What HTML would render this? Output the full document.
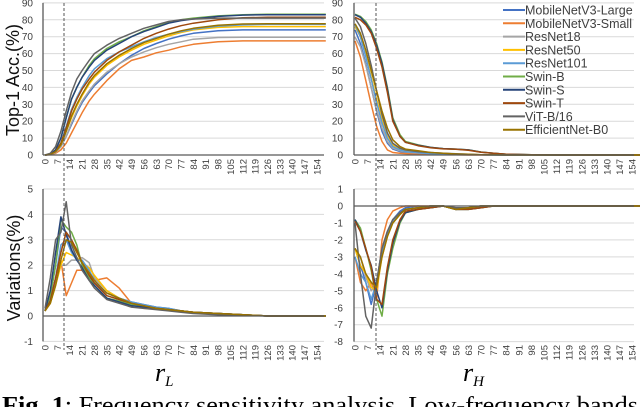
<!DOCTYPE html>
<html><head><meta charset="utf-8"><style>
html,body{margin:0;padding:0;background:#fff;overflow:hidden}
svg{display:block;font-family:"Liberation Sans",sans-serif}
</style></head><body>
<svg id="fig" width="640" height="407" viewBox="0 0 640 407" xmlns="http://www.w3.org/2000/svg"></svg>
<script>
const categories=[0,3,6,9,12,15,18,21,25,28,35,42,49,56,63,70,77,84,98,112,126,140,159];
const xTicks=[0,7,14,21,28,35,42,49,56,63,70,77,84,91,98,105,112,119,126,133,140,147,154];
const seriesNames=["MobileNetV3-Large","MobileNetV3-Small","ResNet18","ResNet50","ResNet101","Swin-B","Swin-S","Swin-T","ViT-B/16","EfficientNet-B0"];
const seriesColors=["#4472C4","#ED7D31","#A5A5A5","#FFC000","#5B9BD5","#70AD47","#264478","#9E480E","#636363","#997300"];
// Top-1 accuracy vs r_L
const accL_MV3L=[0,0.3,1.5,5,11,18,25,31,37,41,48,54,59,63,66,68.5,70.5,72,73.5,74,74,74,74];
const accL_MV3S=[0,0.2,1,3,7,13,19,25,32,36,44,51,56,58,60.5,62,64,65.5,67,67.5,67.5,67.5,67.5];
const accL_R18=[0,0.3,1.5,5,11,19,26,32,38,42,49,54,58,61,63.5,65.5,67,68.5,69.5,69.7,69.7,69.7,69.7];
const accL_R50=[0,0.3,2,6,14,22,29,35,42,46,53,58,62,65.5,68,70.5,72.5,74,75.5,76,76,76,76];
const accL_R101=[0,0.3,2,7,17,27,34,40,47,51,57,61,64,67,69.5,71.5,73,74.5,76.3,77,77.3,77.3,77.3];
const accL_SwinB=[0,0.5,3,10,22,33,40,46,53,57,63,67,70,73.5,76,78.5,80,81,82.3,83,83.3,83.3,83.3];
const accL_SwinS=[0,0.5,3,10,22,33,40,46,52,56,62,66,70,73,75.5,78,79.5,80.5,82,82.8,83,83,83];
const accL_SwinT=[0,0.3,2,7,16,26,33,39,45,49,56,61,65,69,72,74.5,76.5,78,80,81.2,81.5,81.5,81.5];
const accL_ViT=[0,1,5,14,26,37,45,50,56,60,65,69,72,75,77,79,80,80.5,81,81,81,81,81];
const accL_Eff=[0,0.3,2,6,14,23,30,36,43,47,54,59,63,66.5,69,71.5,73.5,75,76.8,77.5,77.7,77.7,77.7];
// Top-1 accuracy vs r_H
const accH_MV3L=[74,66,54,40,26,14,7,3.5,2,1.5,1,0.6,0.4,0.3,0.2,0.1,0,0,0,0,0,0,0];
const accH_MV3S=[67.5,58,44,30,17,8,3,1.5,1,0.8,0.5,0.3,0.2,0.1,0,0,0,0,0,0,0,0,0];
const accH_R18=[69.7,64,53,40,27,16,8,4,2.5,1.8,1.2,0.8,0.5,0.3,0.2,0.1,0,0,0,0,0,0,0];
const accH_R50=[76,70,59,46,33,21,12,6,3.5,2.5,1.5,1,0.6,0.4,0.3,0.1,0,0,0,0,0,0,0];
const accH_R101=[77.3,70,58,45,31,19,10,5,3,2,1.3,0.8,0.5,0.3,0.2,0.1,0,0,0,0,0,0,0];
const accH_SwinB=[83.3,82,79,74,66,55,40,22,12,8,6,4.5,3.8,3.5,3,1.8,1,0.5,0.1,0,0,0,0];
const accH_SwinS=[83,81.5,78,73,65,54,39,21,11,7.5,5.8,4.5,3.8,3.5,3,1.7,1,0.5,0.1,0,0,0,0];
const accH_SwinT=[81.5,80,77,72,63,52,37,20,11,7.5,5.5,4.3,3.6,3.4,2.8,1.6,1,0.5,0.1,0,0,0,0];
const accH_ViT=[81,76,66,53,38,24,13,7,4,3,2,1.5,1,0.7,0.4,0.2,0.1,0,0,0,0,0,0];
const accH_Eff=[77.7,72,62,50,38,26,16,9,5,3.5,2.5,1.5,1,0.6,0.4,0.2,0.1,0,0,0,0,0,0];
// Variations vs r_L
const varL_MV3L=[0.2,0.8,2,3.5,3.3,2.6,2.2,1.9,1.5,1.3,0.9,0.7,0.55,0.45,0.35,0.3,0.2,0.15,0.1,0.05,0,0,0];
const varL_MV3S=[0.2,0.6,1.5,2.2,0.8,1.3,1.8,1.8,1.6,1.4,1.5,1.1,0.5,0.3,0.3,0.25,0.2,0.15,0.1,0.05,0,0,0];
const varL_R18=[0.2,0.5,1.3,2,2,2.2,2.2,2.3,2.1,1.5,1,0.7,0.5,0.4,0.3,0.25,0.2,0.15,0.1,0.05,0,0,0];
const varL_R50=[0.2,0.5,1.2,2,2.5,2.4,2.3,2.1,1.9,1.6,1,0.7,0.5,0.4,0.3,0.25,0.2,0.15,0.1,0.05,0,0,0];
const varL_R101=[0.2,0.6,1.5,2.8,3,2.5,2.2,2.2,1.8,1.4,0.9,0.7,0.55,0.45,0.35,0.3,0.2,0.15,0.1,0.05,0,0,0];
const varL_SwinB=[0.2,0.8,2,3.8,3.5,3.3,2.8,2,1.5,1.2,0.7,0.6,0.45,0.35,0.3,0.25,0.2,0.15,0.1,0.05,0,0,0];
const varL_SwinS=[0.2,1,2.5,3.9,3.2,2.6,2.2,1.9,1.4,1.2,0.7,0.55,0.4,0.35,0.3,0.25,0.2,0.15,0.1,0.05,0,0,0];
const varL_SwinT=[0.2,0.6,1.5,2.5,3.3,3,2.6,2.1,1.6,1.3,0.8,0.65,0.5,0.4,0.3,0.25,0.2,0.15,0.1,0.05,0,0,0];
const varL_ViT=[0.3,1.5,3,3.3,4.5,2.8,2.3,1.8,1.4,1.1,0.65,0.5,0.35,0.3,0.25,0.2,0.15,0.1,0.05,0.03,0,0,0];
const varL_Eff=[0.2,0.5,1.2,2.2,3,2.9,2.5,2.1,1.7,1.4,0.9,0.7,0.5,0.4,0.3,0.25,0.2,0.15,0.1,0.05,0,0,0];
// Variations vs r_H
const varH_MV3L=[-2.5,-3.5,-4.5,-5.8,-4.5,-2.5,-1.5,-0.8,-0.3,-0.1,0,-0.1,0,-0.2,-0.1,0,0,0,0,0,0,0,0];
const varH_MV3S=[-3,-4.5,-5,-4.5,-5.5,-2,-0.8,-0.3,-0.1,0,0,0,0,-0.1,-0.1,0,0,0,0,0,0,0,0];
const varH_R18=[-2.5,-3,-4.2,-5,-4.5,-2.5,-1.5,-0.8,-0.4,-0.2,-0.1,0,0,-0.2,-0.1,0,0,0,0,0,0,0,0];
const varH_R50=[-2.5,-3.5,-4,-4.8,-5,-3,-1.8,-1,-0.5,-0.2,-0.1,0,0,-0.2,-0.1,0,0,0,0,0,0,0,0];
const varH_R101=[-3,-4,-4.5,-5.5,-4.5,-2.8,-1.6,-0.9,-0.4,-0.2,-0.1,0,0,-0.2,-0.1,0,0,0,0,0,0,0,0];
const varH_SwinB=[-0.8,-1.3,-2.5,-3.8,-5.5,-6.5,-4,-2.5,-1,-0.4,-0.2,-0.1,0,-0.2,-0.2,-0.1,0,0,0,0,0,0,0];
const varH_SwinS=[-0.8,-1.5,-2.6,-3.5,-5,-6,-3.8,-2.2,-0.9,-0.4,-0.2,-0.1,0,-0.2,-0.2,-0.1,0,0,0,0,0,0,0];
const varH_SwinT=[-0.9,-1.5,-2.5,-3.6,-5.5,-5.8,-3.6,-2,-0.8,-0.3,-0.2,-0.1,0,-0.2,-0.2,-0.1,0,0,0,0,0,0,0];
const varH_ViT=[-1,-4,-6.5,-7.2,-4.5,-2.5,-1.5,-0.8,-0.4,-0.2,-0.1,0,0,-0.1,-0.1,0,0,0,0,0,0,0,0];
const varH_Eff=[-2.5,-3,-4,-4.5,-4.8,-3,-1.8,-1,-0.5,-0.2,-0.1,0,0,-0.2,-0.1,0,0,0,0,0,0,0,0];

const NS="http://www.w3.org/2000/svg";
const svg=document.getElementById('fig');
function mk(tag,attrs,parent,text){const e=document.createElementNS(NS,tag);for(const k in attrs)e.setAttribute(k,attrs[k]);if(text!==undefined)e.textContent=text;(parent||svg).appendChild(e);return e;}

const panels=[
 {id:'acc-rl',ax:43,x0:45,xs:1.766,right:324,y0:155,ys:1.69,ticks:[0,10,20,30,40,50,60,70,80,90],ymin:0,ymax:90,labX:33,xlabY:159,
  series:[accL_MV3L,accL_MV3S,accL_R18,accL_R50,accL_R101,accL_SwinB,accL_SwinS,accL_SwinT,accL_ViT,accL_Eff]},
 {id:'acc-rh',ax:354,x0:355,xs:1.80,right:634,y0:155,ys:1.69,ticks:[0,10,20,30,40,50,60,70,80,90],ymin:0,ymax:90,labX:343,xlabY:159,
  series:[accH_MV3L,accH_MV3S,accH_R18,accH_R50,accH_R101,accH_SwinB,accH_SwinS,accH_SwinT,accH_ViT,accH_Eff]},
 {id:'var-rl',ax:43,x0:45,xs:1.766,right:324,y0:316,ys:25.4,ticks:[-1,0,1,2,3,4,5],ymin:-1,ymax:5,labX:33,xlabY:345,
  series:[varL_MV3L,varL_MV3S,varL_R18,varL_R50,varL_R101,varL_SwinB,varL_SwinS,varL_SwinT,varL_ViT,varL_Eff]},
 {id:'var-rh',ax:354,x0:355,xs:1.80,right:634,y0:206,ys:16.96,ticks:[-8,-7,-6,-5,-4,-3,-2,-1,0,1],ymin:-8,ymax:1,labX:343,xlabY:345,
  series:[varH_MV3L,varH_MV3S,varH_R18,varH_R50,varH_R101,varH_SwinB,varH_SwinS,varH_SwinT,varH_ViT,varH_Eff]}
];

panels.forEach(p=>{
  const g=mk('g',{});
  
  
  const X=c=>p.x0+c*p.xs, Y=v=>p.y0-v*p.ys;
  p.ticks.forEach(t=>{
    if(t!==0){const gl=mk('line',{x1:p.ax,x2:p.right,y1:Y(t),y2:Y(t),stroke:'#d9d9d9','stroke-width':1},g);
      
      }
    const tl=mk('text',{x:p.labX,y:Y(t)+3.5,'font-size':10,'text-anchor':'end',fill:'#404040'},g,String(t));
    
    
  });
  xTicks.forEach(t=>{
    const tx=mk('text',{transform:`translate(${X(t)+3.5},${p.xlabY}) rotate(-90)`,'font-size':9.5,'text-anchor':'end',fill:'#404040'},g,String(t));
    
    
  });
  p.series.forEach((vals,si)=>{
    const pts=vals.map((v,i)=>X(categories[i]).toFixed(1)+','+Y(v).toFixed(1)).join(' ');
    const pl=mk('polyline',{points:pts,fill:'none',stroke:seriesColors[si],'stroke-width':1.5,'stroke-linejoin':'round'},g);
    
    
  });
  const zl=mk('line',{x1:p.ax,x2:p.right,y1:Y(0),y2:Y(0),stroke:'#595959','stroke-width':1.3},g);
  
  
  const ya=mk('line',{x1:p.ax,x2:p.ax,y1:Y(p.ymax),y2:Y(p.ymin),stroke:'#595959','stroke-width':1.3},g);
  
  
});

[64,376].forEach(x=>{
  const d=mk('line',{x1:x,x2:x,y1:3,y2:350,stroke:'#555','stroke-width':1,'stroke-dasharray':'3,2'});
  
  
});

const lg=mk('g',{});


seriesNames.forEach((n,i)=>{
  const y=10+i*13.3;
  const l=mk('line',{x1:503,x2:525,y1:y,y2:y,stroke:seriesColors[i],'stroke-width':2},lg);
  
  
  const t=mk('text',{x:525,y:y+4.5,'font-size':12.5,fill:'#404040'},lg,n);
  
  
});
</script>
<svg style="position:absolute;left:0;top:0" width="640" height="407">
  <text transform="translate(19,80) rotate(-90)" text-anchor="middle" font-family="Liberation Sans,sans-serif" font-size="18" fill="#111">Top-1 Acc.(%)</text>
  <text transform="translate(20,268) rotate(-90)" text-anchor="middle" font-family="Liberation Sans,sans-serif" font-size="18" fill="#111">Variations(%)</text>
  <text x="155" y="381" font-family="Liberation Serif,serif" font-style="italic" font-size="26" fill="#000">r<tspan font-size="15" dy="5">L</tspan></text>
  <text x="463" y="381" font-family="Liberation Serif,serif" font-style="italic" font-size="26" fill="#000">r<tspan font-size="15" dy="5">H</tspan></text>
  <text x="2" y="413" font-family="Liberation Serif,serif" font-size="24" fill="#000" textLength="636" lengthAdjust="spacingAndGlyphs"><tspan font-weight="bold">Fig. 1</tspan>: Frequency sensitivity analysis. Low-frequency bands</text>
</svg>
</body></html>
